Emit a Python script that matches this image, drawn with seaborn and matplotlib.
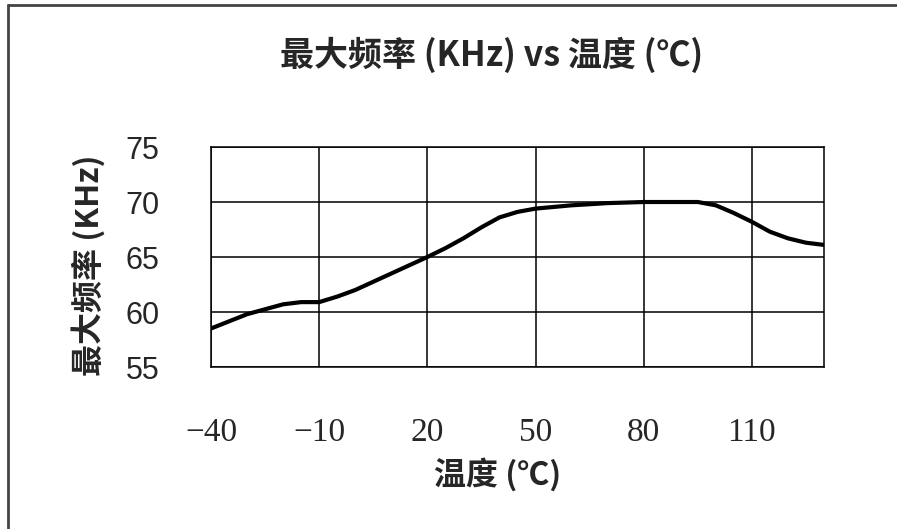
import matplotlib
matplotlib.use('Agg')
import pandas as pd
import matplotlib.pyplot as plt
import seaborn as sns
from matplotlib.lines import Line2D

sns.set_style('white')
plt.rcParams['font.family'] = ['Noto Sans CJK SC', 'DejaVu Sans']

# 온도 / 주파수 값
temp = [-40, -30, -20, -15, -10, -5, 0, 10, 20, 25, 30, 35, 40, 45, 50, 60, 70, 80, 90, 95, 100, 105, 110, 115, 120, 125, 130]
freq = [58.5, 59.8, 60.7, 60.9, 60.9, 61.4, 62.0, 63.5, 65.0, 65.8, 66.7, 67.7, 68.6, 69.1, 69.4, 69.7, 69.9, 70.0, 70.0, 70.0, 69.7, 69.0, 68.2, 67.3, 66.7, 66.3, 66.1]
xticks = [-40, -10, 20, 50, 80, 110]
yticks = [55, 60, 65, 70, 75]

df = pd.DataFrame({'温度': temp, '频率': freq})

fig = plt.figure(figsize=(8.97, 5.29), dpi=100)
ax = fig.add_axes([0.2352, 0.3062, 0.6834, 0.4159])

sns.lineplot(data=df, x='温度', y='频率', color='black', linewidth=3.0, ax=ax)

ax.set_xlim(-40, 130)
ax.set_ylim(55, 75)
ax.set_xticks(xticks)
ax.set_yticks(yticks)
ax.set_xticklabels([str(t).replace('-', '\u2212') for t in xticks],
                   family=['Liberation Serif', 'DejaVu Serif'], fontsize=24)
ax.set_yticklabels([str(t) for t in yticks], family=['Liberation Sans'], fontsize=22)
ax.tick_params(axis='x', length=0, pad=36)
ax.tick_params(axis='y', length=0, pad=37)
ax.grid(True, color='black', linewidth=1.1)
for s in ax.spines.values():
    s.set_color('black')
    s.set_linewidth(1.1)

ax.set_xlabel('温度 (℃)', fontsize=23, fontweight='bold', va='center')
ax.xaxis.set_label_coords(0.468, -0.49)
ax.set_ylabel('最大频率 (KHz)', fontsize=23, fontweight='bold', va='center')
ax.yaxis.set_label_coords(-0.2, 0.464)
fig.text(0.548, 0.896, '最大频率 (KHz) vs 温度 (℃)', ha='center', va='center',
         fontsize=24.5, fontweight='bold')

# 바깥 테두리
fig.add_artist(Line2D([0.009, 0.009], [0, 0.991], transform=fig.transFigure, color='#444444', linewidth=2))
fig.add_artist(Line2D([0.009, 1], [0.991, 0.991], transform=fig.transFigure, color='#444444', linewidth=2))

fig.savefig('out.png', dpi=100)
